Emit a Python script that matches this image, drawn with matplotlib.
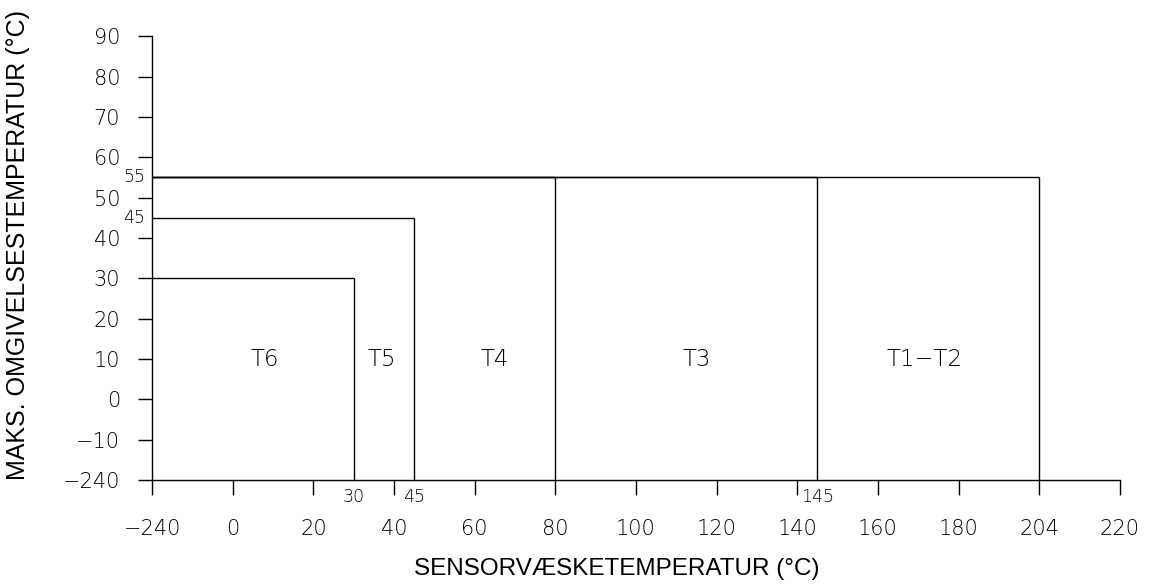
import matplotlib.pyplot as plt
import numpy as np

# broken scales: first tick is -240 on both axes, 204 sits on the 200 slot
x_tick_labels = ['-240', '0', '20', '40', '60', '80', '100', '120', '140',
                 '160', '180', '204', '220']
y_tick_labels = ['-240', '-10', '0', '10', '20', '30', '40', '50', '60',
                 '70', '80', '90']

# temperature class limits: (sensor fluid temperature, max ambient temperature)
class_names = ['T6', 'T5', 'T4', 'T3', 'T1\u2212T2']
fluid_limits = [30, 45, 80, 145, 204]
ambient_limits = [30, 45, 55, 55, 55]
label_x = [8, 37, 65, 115, 171.5]
label_y = 10

x_marks = [30, 45, 145]
y_marks = [55, 45]

X_BREAK = {-240: -20, 204: 200}
Y_BREAK = {-240: -20}


def xp(v):
    return X_BREAK.get(v, v)


def yp(v):
    return Y_BREAK.get(v, v)


thin = dict(family='DejaVu Sans', fontweight='light')

fig = plt.figure(figsize=(11.57, 5.84), dpi=100)
ax = fig.add_axes([0.1314, 0.178, 0.8366, 0.760])

x0 = xp(-240)
y0 = yp(-240)
for f, a in zip(fluid_limits, ambient_limits):
    ax.plot([x0, xp(f)], [a, a], color='black', lw=1.0, solid_capstyle='butt')
    ax.plot([xp(f), xp(f)], [a, y0], color='black', lw=1.0, solid_capstyle='butt')

for name, lx in zip(class_names, label_x):
    ax.text(lx, label_y, name, ha='center', va='center', fontsize=16.5, **thin)

for v in x_marks:
    ax.annotate(str(v), xy=(xp(v), y0), xytext=(0, -6), textcoords='offset points',
                ha='center', va='top', fontsize=12.5, **thin)
for v in y_marks:
    ax.annotate(str(v), xy=(x0, v), xytext=(-5, 0), textcoords='offset points',
                ha='right', va='center', fontsize=12.5, **thin)

ax.set_xlim(-20, 220)
ax.set_ylim(-20, 90)
ax.set_xticks([xp(int(t)) for t in x_tick_labels])
ax.set_xticklabels([t.replace('-', '\u2212') for t in x_tick_labels], fontsize=15, **thin)
ax.set_yticks([yp(int(t)) for t in y_tick_labels])
ax.set_yticklabels([t.replace('-', '\u2212') for t in y_tick_labels], fontsize=15, **thin)

for s in ['top', 'right']:
    ax.spines[s].set_visible(False)
for s in ['left', 'bottom']:
    ax.spines[s].set_linewidth(1.0)
ax.tick_params(axis='x', direction='out', length=11, width=1.0, pad=17)
ax.tick_params(axis='y', direction='out', length=10, width=1.0, pad=13)

ax.set_xlabel('SENSORVÆSKETEMPERATUR (°C)', family='Liberation Sans', fontsize=17.5,
              va='center', ha='center')
ax.set_ylabel('MAKS. OMGIVELSESTEMPERATUR (°C)', family='Liberation Sans', fontsize=18,
              va='center', ha='center')
ax.xaxis.set_label_coords(0.480, -0.200)
ax.yaxis.set_label_coords(-0.138, 0.529)

fig.savefig('out.png', dpi=100)
